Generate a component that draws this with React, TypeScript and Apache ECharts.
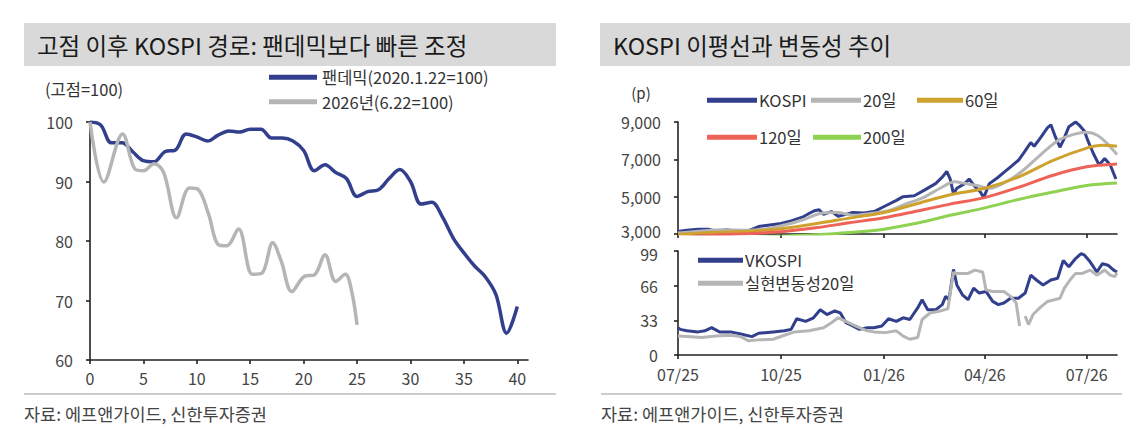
import React, { useEffect, useRef } from "react";
import * as echarts from "echarts";

const FONT = '"Noto Sans CJK KR", "Noto Sans", sans-serif';

const leftTitle = "고점 이후 KOSPI 경로: 팬데믹보다 빠른 조정";
const rightTitle = "KOSPI 이평선과 변동성 추이";
const sourceText = "자료: 에프앤가이드, 신한투자증권";
const leftUnit = "(고점=100)";
const rightUnit = "(p)";

// Left chart: days after peak
const pandemicName = "팬데믹(2020.1.22=100)";
const y2026Name = "2026년(6.22=100)";
const pandemicDays = [0, 1, 2, 3, 4, 5, 6, 7, 8, 9, 10, 11, 12, 13, 14, 15, 16, 17, 18, 19, 20, 21, 22, 23, 24, 25, 26, 27, 28, 29, 30, 31, 32, 33, 34, 35, 36, 37, 38, 39, 40];
const pandemicValues = [100, 99.5, 96.5, 96.5, 95, 93.5, 93.3, 95, 95.3, 98, 97.5, 96.8, 97.8, 98.5, 98.3, 98.8, 98.8, 97.3, 97.3, 96.8, 95.2, 91.8, 92.8, 91.5, 90.5, 87.5, 88.3, 88.6, 90.5, 92, 90, 86.2, 86.5, 84, 80.5, 78, 75.8, 74, 71, 64.5, 69];
const y2026Days = [0, 1.3, 3.05, 4.2, 5, 6, 6.9, 8.1, 9.3, 10.1, 11.1, 12, 12.8, 13.9, 15.2, 16.1, 17.1, 17.9, 18.9, 20.1, 21, 22, 23, 23.9, 24.5, 25];
const y2026Values = [100, 89.9, 98, 92.1, 91.8, 93, 91.5, 83.9, 88.9, 88.7, 84.5, 79.4, 79.2, 82, 74.4, 74.6, 79.7, 76.6, 71.5, 74.1, 74.3, 77.7, 73.2, 74.4, 71.5, 65.9];
const dayTicks = [0, 5, 10, 15, 20, 25, 30, 35, 40];

// Right chart: KOSPI & moving averages
const kospiDates = ["2025-07-01","2025-07-09","2025-07-19","2025-07-28","2025-08-04","2025-08-13","2025-08-23","2025-09-02","2025-09-11","2025-09-21","2025-10-01","2025-10-10","2025-10-20","2025-10-26","2025-10-31","2025-11-04","2025-11-08","2025-11-15","2025-11-21","2025-11-28","2025-12-04","2025-12-14","2025-12-23","2026-01-02","2026-01-12","2026-01-18","2026-01-28","2026-02-06","2026-02-16","2026-02-22","2026-02-26","2026-03-01","2026-03-04","2026-03-07","2026-03-14","2026-03-18","2026-03-23","2026-03-28","2026-03-31","2026-04-05","2026-04-12","2026-04-18","2026-04-24","2026-05-01","2026-05-07","2026-05-12","2026-05-15","2026-05-20","2026-05-27","2026-05-30","2026-06-03","2026-06-07","2026-06-10","2026-06-15","2026-06-21","2026-06-24","2026-06-29","2026-07-02","2026-07-07","2026-07-12","2026-07-17","2026-07-22","2026-07-27"];
const kospiValues = [3130,3200,3250,3260,3150,3230,3150,3180,3400,3480,3560,3700,3900,4100,4250,4300,4050,4200,3950,4050,4150,4120,4200,4500,4800,5000,5050,5350,5700,6050,6350,5950,5150,5450,5700,5950,5550,5250,4950,5700,6000,6300,6600,6950,7450,7900,7700,8100,8700,8850,8200,7650,8000,8750,9000,8850,8500,8000,7300,6700,7050,6700,5950];

const ma20Dates = ["2025-07-01","2025-07-20","2025-08-10","2025-09-01","2025-09-20","2025-10-05","2025-10-20","2025-11-05","2025-11-20","2025-12-05","2025-12-20","2026-01-05","2026-01-20","2026-02-05","2026-02-20","2026-03-05","2026-03-15","2026-03-25","2026-04-05","2026-04-20","2026-05-05","2026-05-20","2026-06-05","2026-06-20","2026-07-01","2026-07-10","2026-07-20","2026-07-28"];
const ma20Values = [3050,3150,3230,3200,3300,3500,3750,4100,4150,4000,4100,4250,4600,4950,5450,5800,5700,5600,5450,5800,6400,7200,8000,8350,8450,8300,7800,7250];

const ma60Dates = ["2025-07-01","2025-08-01","2025-09-01","2025-10-01","2025-11-01","2025-12-01","2026-01-01","2026-02-01","2026-03-01","2026-04-01","2026-05-01","2026-06-01","2026-07-01","2026-07-15","2026-07-28"];
const ma60Values = [2980,3080,3150,3280,3550,3850,4150,4650,5100,5450,6050,6950,7600,7750,7700];

const maLongDates = ["2025-07-01","2025-08-01","2025-09-01","2025-10-01","2025-11-01","2025-12-01","2026-01-01","2026-02-01","2026-03-01","2026-04-01","2026-05-01","2026-06-01","2026-07-01","2026-07-28"];
const ma120Values = [2800,2930,3020,3120,3330,3600,3870,4250,4600,4950,5500,6150,6600,6750];
const ma200Values = [2600,2700,2800,2880,2960,3080,3260,3600,4000,4400,4850,5250,5600,5730];

// Right chart: volatility
const vkospiDates = ["2025-07-01","2025-07-03","2025-07-09","2025-07-19","2025-07-25","2025-07-31","2025-08-07","2025-08-17","2025-08-26","2025-09-05","2025-09-11","2025-09-24","2025-10-04","2025-10-10","2025-10-15","2025-10-23","2025-10-30","2025-11-05","2025-11-11","2025-11-18","2025-11-23","2025-11-28","2025-12-04","2025-12-10","2025-12-17","2025-12-23","2025-12-30","2026-01-05","2026-01-12","2026-01-18","2026-01-24","2026-01-31","2026-02-04","2026-02-09","2026-02-16","2026-02-22","2026-02-25","2026-02-28","2026-03-04","2026-03-07","2026-03-12","2026-03-17","2026-03-22","2026-03-27","2026-04-02","2026-04-08","2026-04-13","2026-04-18","2026-04-24","2026-05-01","2026-05-07","2026-05-12","2026-05-17","2026-05-23","2026-05-30","2026-06-05","2026-06-10","2026-06-15","2026-06-21","2026-06-26","2026-06-29","2026-07-04","2026-07-10","2026-07-15","2026-07-20","2026-07-25","2026-07-28"];
const vkospiValues = [26,24.4,23,22,23,26,22,22,20,17.5,20.7,22,23,24.4,34.5,32,35.4,43,38.5,42,40,30.7,27.6,24.4,26,26,27.6,34.5,32,35.4,33.8,44.8,52.6,43,43,48,55.8,52.6,81.5,66.7,57.3,52.6,63.6,59,60.5,51,48,49.5,54,54,59,76,71.4,66.7,71.4,73,90,84,91.8,96.5,95,88.7,79,87,85.5,80.8,79];

const rvDates = ["2025-07-01","2025-07-09","2025-07-22","2025-08-04","2025-08-17","2025-08-26","2025-09-02","2025-09-11","2025-09-24","2025-10-04","2025-10-13","2025-10-26","2025-11-08","2025-11-15","2025-11-21","2025-11-28","2025-12-04","2025-12-10","2025-12-17","2025-12-23","2026-01-02","2026-01-12","2026-01-18","2026-01-24","2026-01-31","2026-02-04","2026-02-11","2026-02-19","2026-02-27","2026-03-04","2026-03-05","2026-03-17","2026-03-23","2026-03-30","2026-04-02","2026-04-08","2026-04-18","2026-04-24","2026-04-29","2026-05-02","2026-05-04","2026-05-07","2026-05-10","2026-05-14","2026-05-20","2026-05-27","2026-06-02","2026-06-07","2026-06-11","2026-06-16","2026-06-21","2026-06-27","2026-07-04","2026-07-10","2026-07-17","2026-07-22","2026-07-26","2026-07-28"];
const rvValues: (number | null)[] = [18,17.5,16.6,18,18.8,17.5,13.5,14.4,15,18.8,22,23,26,30.7,35.4,32,29,26,23,22,21.3,23,18,15,16.6,33.8,40,41.7,43.9,79,77.7,77.7,80.8,79,62,60.5,60.5,55.8,49.5,27.6,null,37,29,38.5,44.8,51,52.6,54,63.6,71.4,77.7,77.7,80.8,76,80.8,76,74.6,78];

const quarterTicks = ["2025-07-01", "2025-10-01", "2026-01-01", "2026-04-01", "2026-07-01"];
const dateMin = "2025-07-01";
const dateMax = "2026-07-28";

const NAVY = "#323f8c";
const GRAY = "#b5b5b5";
const GOLD = "#cfa22e";
const RED = "#ef6257";
const GREEN = "#8fd150";
const AXIS = "#222222";
const LABEL = "#444444";

const ts = (s: string) => Date.parse(s);
const zip = (xs: any[], ys: any[]) => xs.map((x, i) => [typeof x === "string" ? ts(x) : x, ys[i]]);
const fmtDate = (v: number) => {
  const d = new Date(v);
  return String(d.getUTCMonth() + 1).padStart(2, "0") + "/" + String(d.getUTCFullYear() % 100).padStart(2, "0");
};

const axisLineStyle = { show: true, lineStyle: { color: AXIS, width: 1.6 } };
const labelStyle = { color: LABEL, fontSize: 16, fontFamily: FONT };
const LEG_FS = 16.5;

function legendItem(name: string, left: number, centerY: number, w: number) {
  return {
    show: true,
    data: [name],
    left,
    top: centerY - 10,
    padding: 0,
    icon: "rect",
    itemWidth: w,
    itemHeight: 5,
    selectedMode: false,
    textStyle: { color: "#333", fontSize: LEG_FS, fontFamily: FONT, padding: [0, 0, 0, -3] },
  };
}

export default function App() {
  const ref = useRef<HTMLDivElement>(null);
  useEffect(() => {
    if (!ref.current) return;
    const chart = echarts.init(ref.current, null, { renderer: "svg" });
    const dateTicks = quarterTicks.map(ts);
    const option: any = {
      animation: false,
      backgroundColor: "#ffffff",
      textStyle: { fontFamily: FONT },
      grid: [
        { left: 90, top: 122, width: 438, height: 238 },
        { left: 678, top: 122, width: 439, height: 112 },
        { left: 678, top: 251, width: 439, height: 104 },
      ],
      xAxis: [
        {
          gridIndex: 0, type: "value", min: 0, max: 41,
          axisLine: axisLineStyle,
          axisTick: { show: true, length: 4, customValues: dayTicks, lineStyle: { color: AXIS, width: 1.6 } },
          axisLabel: { ...labelStyle, margin: 10, customValues: dayTicks },
          splitLine: { show: false },
        },
        {
          gridIndex: 1, type: "value", min: ts(dateMin), max: ts(dateMax),
          axisLine: axisLineStyle,
          axisTick: { show: true, length: 4, customValues: dateTicks, lineStyle: { color: AXIS, width: 1.6 } },
          axisLabel: { show: false },
          splitLine: { show: false },
        },
        {
          gridIndex: 2, type: "value", min: ts(dateMin), max: ts(dateMax),
          axisLine: axisLineStyle,
          axisTick: { show: true, length: 4, customValues: dateTicks, lineStyle: { color: AXIS, width: 1.6 } },
          axisLabel: { ...labelStyle, margin: 11, customValues: dateTicks, formatter: (v: number) => fmtDate(v) },
          splitLine: { show: false },
        },
      ],
      yAxis: [
        {
          gridIndex: 0, type: "value", min: 60, max: 100, interval: 10,
          axisLine: axisLineStyle,
          axisTick: { show: true, length: 4, lineStyle: { color: AXIS, width: 1.6 } },
          axisLabel: { ...labelStyle, margin: 17 },
          splitLine: { show: false },
        },
        {
          gridIndex: 1, type: "value", min: 3000, max: 9000, interval: 2000,
          axisLine: axisLineStyle,
          axisTick: { show: true, length: 4, lineStyle: { color: AXIS, width: 1.6 } },
          axisLabel: {
            ...labelStyle, margin: 17,
            formatter: (v: number) => (v === 3000 ? "{low|" + v.toLocaleString("en-US") + "}" : v.toLocaleString("en-US")),
            rich: { low: { color: LABEL, fontSize: 16, fontFamily: FONT, padding: [0, 0, 6, 0] } },
          },
          splitLine: { show: false },
        },
        {
          gridIndex: 2, type: "value", min: 0, max: 99, interval: 33,
          axisLine: axisLineStyle,
          axisTick: { show: true, length: 4, lineStyle: { color: AXIS, width: 1.6 } },
          axisLabel: {
            ...labelStyle, margin: 20,
            formatter: (v: number) => (v === 99 ? "{high|99}" : String(v)),
            rich: { high: { color: LABEL, fontSize: 16, fontFamily: FONT, padding: [6, 0, 0, 0] } },
          },
          splitLine: { show: false },
        },
      ],
      legend: [
        {
          show: true, data: [pandemicName, y2026Name], orient: "vertical", left: 269, top: 69,
          padding: 0, itemGap: 8, icon: "rect", itemWidth: 48, itemHeight: 5, selectedMode: false,
          textStyle: { color: "#333", fontSize: LEG_FS, fontFamily: FONT },
        },
        legendItem("KOSPI", 707, 102, 50),
        legendItem("20일", 811, 102, 50),
        legendItem("60일", 917, 102, 46),
        legendItem("120일", 707, 139, 50),
        legendItem("200일", 813, 139, 48),
        legendItem("VKOSPI", 698, 262, 45),
        legendItem("실현변동성20일", 698, 285, 45),
      ],
      series: [
        { name: pandemicName, type: "line", xAxisIndex: 0, yAxisIndex: 0, data: zip(pandemicDays, pandemicValues), color: NAVY, smooth: 0.35, showSymbol: false, lineStyle: { width: 3.5, color: NAVY } },
        { name: y2026Name, type: "line", xAxisIndex: 0, yAxisIndex: 0, data: zip(y2026Days, y2026Values), color: GRAY, smooth: 0.35, showSymbol: false, lineStyle: { width: 3.5, color: GRAY } },
        { name: "KOSPI", type: "line", xAxisIndex: 1, yAxisIndex: 1, data: zip(kospiDates, kospiValues), color: NAVY, showSymbol: false, lineStyle: { width: 3, color: NAVY } },
        { name: "20일", type: "line", xAxisIndex: 1, yAxisIndex: 1, data: zip(ma20Dates, ma20Values), color: GRAY, smooth: 0.3, showSymbol: false, lineStyle: { width: 3, color: GRAY } },
        { name: "60일", type: "line", xAxisIndex: 1, yAxisIndex: 1, data: zip(ma60Dates, ma60Values), color: GOLD, smooth: 0.3, showSymbol: false, lineStyle: { width: 3, color: GOLD } },
        { name: "120일", type: "line", xAxisIndex: 1, yAxisIndex: 1, data: zip(maLongDates, ma120Values), color: RED, smooth: 0.3, showSymbol: false, lineStyle: { width: 3, color: RED } },
        { name: "200일", type: "line", xAxisIndex: 1, yAxisIndex: 1, data: zip(maLongDates, ma200Values), color: GREEN, smooth: 0.3, showSymbol: false, lineStyle: { width: 3, color: GREEN } },
        { name: "VKOSPI", type: "line", xAxisIndex: 2, yAxisIndex: 2, data: zip(vkospiDates, vkospiValues), color: NAVY, showSymbol: false, lineStyle: { width: 3, color: NAVY } },
        { name: "실현변동성20일", type: "line", xAxisIndex: 2, yAxisIndex: 2, data: zip(rvDates, rvValues), color: GRAY, showSymbol: false, connectNulls: false, lineStyle: { width: 3, color: GRAY } },
      ],
      graphic: [
        { type: "rect", silent: true, shape: { x: 24, y: 23, width: 532, height: 43 }, style: { fill: "#d9d9d9" } },
        { type: "rect", silent: true, shape: { x: 600, y: 23, width: 530, height: 43 }, style: { fill: "#d9d9d9" } },
        { type: "text", silent: true, x: 37, y: 45, style: { text: leftTitle, fontSize: 23.5, fontFamily: FONT, fill: "#1a1a1a", verticalAlign: "middle" } },
        { type: "text", silent: true, x: 613, y: 45, style: { text: rightTitle, fontSize: 23.5, fontFamily: FONT, fill: "#1a1a1a", verticalAlign: "middle" } },
        { type: "text", silent: true, x: 45, y: 89, style: { text: leftUnit, fontSize: 16.5, fontFamily: FONT, fill: "#333", verticalAlign: "middle" } },
        { type: "text", silent: true, x: 641, y: 92, style: { text: rightUnit, fontSize: 15, fontFamily: FONT, fill: "#333", verticalAlign: "middle", align: "center" } },
        { type: "line", silent: true, shape: { x1: 24, y1: 394, x2: 556, y2: 394 }, style: { stroke: "#cccccc", lineWidth: 2 } },
        { type: "line", silent: true, shape: { x1: 601, y1: 394, x2: 1122, y2: 394 }, style: { stroke: "#cccccc", lineWidth: 2 } },
        { type: "text", silent: true, x: 24, y: 413, style: { text: sourceText, fontSize: 17.5, fontFamily: FONT, fill: "#444", verticalAlign: "middle" } },
        { type: "text", silent: true, x: 601, y: 413, style: { text: sourceText, fontSize: 17.5, fontFamily: FONT, fill: "#444", verticalAlign: "middle" } },
      ],
    };
    chart.setOption(option);
    return () => chart.dispose();
  }, []);
  return <div ref={ref} style={{ position: "fixed", left: 0, top: 0, width: 1142, height: 444 }} />;
}
